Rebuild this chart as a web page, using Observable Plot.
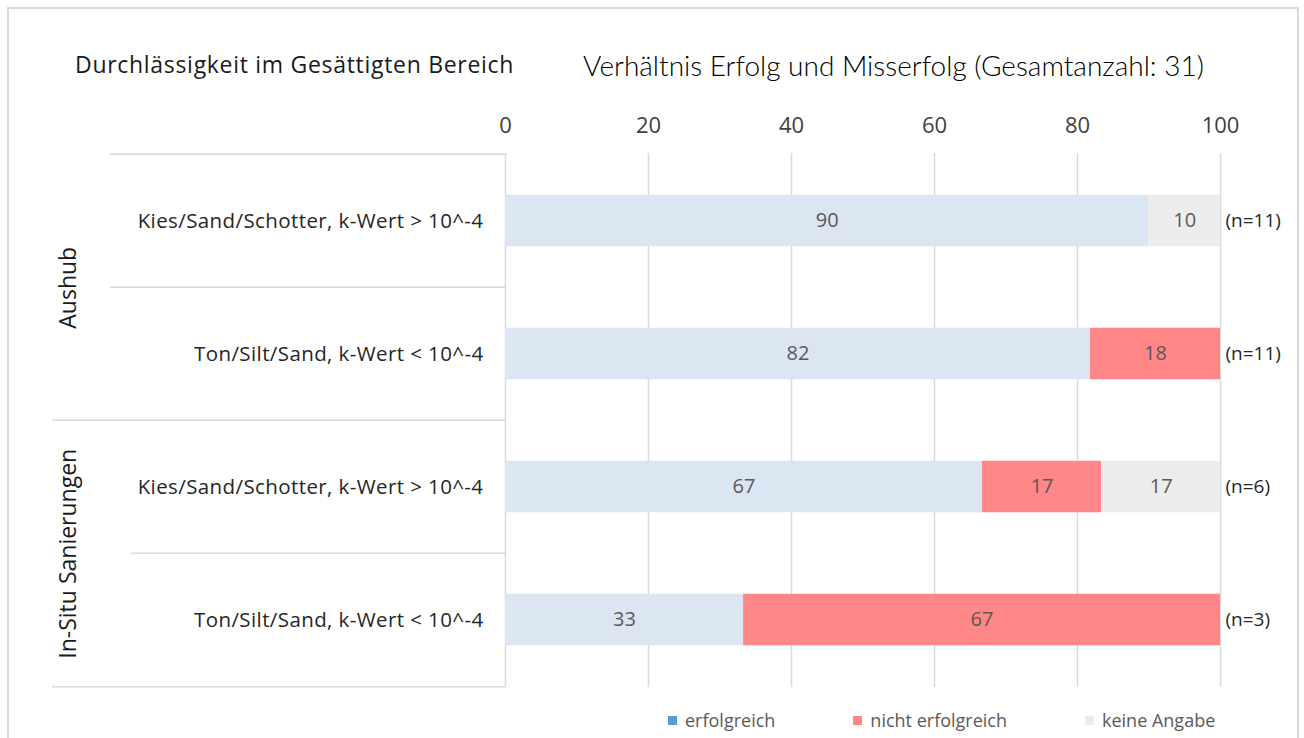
<!DOCTYPE html>
<html>
<head>
<meta charset="utf-8">
<script src="https://cdn.jsdelivr.net/npm/d3@7"></script>
<script src="https://cdn.jsdelivr.net/npm/@observablehq/plot@0.6"></script>
<style>
  body { margin: 0; background: #fff; font-family: "Open Sans", Lato, sans-serif; }
  #wrap { position: relative; width: 1304px; height: 738px; overflow: hidden; background: #fff; }
  #border { position: absolute; left: 7px; top: 7px; width: 1292px; height: 760px; border: 2px solid #d9d9d9; box-sizing: border-box; }
  #chart { position: absolute; left: 0; top: 0; }
  #title1 { position: absolute; left: 75px; top: 49px; font-size: 23px; line-height: 1.36; color: #1a1a1a; white-space: nowrap; letter-spacing: 0.7px; }
  #title2 { position: absolute; left: 583px; top: 49px; font-family: Lato, sans-serif; font-size: 28px; line-height: 1.2; font-weight: 300; color: #000; white-space: nowrap; }
  #legend { position: absolute; left: 668px; top: 708px; display: flex; font-size: 18px; color: #595959; white-space: nowrap; }
  .item { display: flex; align-items: center; margin-right: 78px; }
  .sw { width: 9px; height: 9px; margin-right: 8px; }
  [aria-label="y-axis tick label"] text { letter-spacing: 0.4px; }
</style>
</head>
<body>
<div id="wrap">
  <div id="border"></div>
  <div id="chart"></div>
  <div id="title1">Durchlässigkeit im Gesättigten Bereich</div>
  <div id="title2">Verhältnis Erfolg und Misserfolg (Gesamtanzahl: 31)</div>
  <div id="legend"></div>
</div>
<script>
// ---- data ----
const groups = ["Aushub", "Aushub", "In-Situ Sanierungen", "In-Situ Sanierungen"];
const materials = [
  "Kies/Sand/Schotter, k-Wert > 10^-4",
  "Ton/Silt/Sand, k-Wert < 10^-4",
  "Kies/Sand/Schotter, k-Wert > 10^-4",
  "Ton/Silt/Sand, k-Wert < 10^-4"
];
const erfolgreich = [90, 81.8, 66.7, 33.3];
const nichtErfolgreich = [0, 18.2, 16.7, 66.7];
const keineAngabe = [10, 0, 16.6, 0];
const counts = [11, 11, 6, 3];
const series = ["erfolgreich", "nicht erfolgreich", "keine Angabe"];
const barColors = ["#dce6f2", "#ff8787", "#ececec"];
const legendColors = ["#5b9bd5", "#ff8787", "#ececec"];
const xTicks = [0, 20, 40, 60, 80, 100];

// ---- derived tables ----
const rowIds = materials.map((_, i) => String(i));
const seriesValues = [erfolgreich, nichtErfolgreich, keineAngabe];
const long = [];
rowIds.forEach((r, i) => series.forEach((s, k) => long.push({row: r, series: s, value: seriesValues[k][i]})));
const rowsN = rowIds.map((r, i) => ({row: r, n: counts[i]}));
const groupNames = [...new Set(groups)];
const groupFirst = groupNames.map(g => ({group: g, row: String(groups.indexOf(g))}));

// ---- layout constants ----
const W = 1304, H = 700;
const mTop = 153, mBottom = 13, mLeft = 505, mRight = 84;
const step = (H - mTop - mBottom) / rowIds.length;
const half = step / 2;
const barH = 52;
const FONT = "'Open Sans', Lato, sans-serif";

// separator lines of the category table (left side)
const groupStartRows = rowIds.filter((r, i) => i > 0 && groups[i] !== groups[i - 1]);
const innerRowsA = rowIds.filter((r, i) => (i === 0 || groups[i] === groups[i - 1]) && groups[i] === groupNames[0]);
const innerRowsB = rowIds.filter((r, i) => i > 0 && groups[i] === groups[i - 1] && groups[i] !== groupNames[0]);
const lastRow = rowIds[rowIds.length - 1];
const lineStyle = {stroke: "#d9d9d9", strokeWidth: 1.5, x1: 0, x2: 0};

const chart = Plot.plot({
  width: W,
  height: H,
  marginTop: mTop,
  marginBottom: mBottom,
  marginLeft: mLeft,
  marginRight: mRight,
  style: {fontFamily: FONT, fontSize: "18px", background: "transparent"},
  x: {domain: [0, 100], axis: null},
  y: {domain: rowIds, padding: 0, axis: null},
  color: {domain: series, range: barColors},
  marks: [
    Plot.ruleX(xTicks, {stroke: "#d9d9d9", strokeWidth: 1.5}),
    Plot.barX(long, Plot.stackX({y: "row", x: "value", z: "series", fill: "series", order: series, insetTop: (step - barH) / 2, insetBottom: (step - barH) / 2})),
    Plot.text(long, Plot.stackX({y: "row", x: "value", z: "series", order: series, text: d => d.value > 0 ? String(Math.round(d.value)) : "", fill: "#595959", fontSize: 20})),
    Plot.axisX(xTicks, {anchor: "top", tickSize: 0, tickPadding: 21, fill: "#404040", fontSize: 22, label: null}),
    Plot.axisY({anchor: "left", tickSize: 0, tickPadding: 22, tickFormat: i => materials[+i], fill: "#262626", fontSize: 20.5, label: null}),
    Plot.text(rowsN, {y: "row", x: 100, text: d => `(n=${d.n})`, dx: 5, textAnchor: "start", fill: "#262626", fontSize: 19}),
    Plot.text(groupFirst, {y: "row", frameAnchor: "left", textAnchor: "middle", text: "group", rotate: -90, dy: half, dx: -437, fill: "#1a1a1a", fontSize: 23}),
    Plot.ruleY(innerRowsA, {...lineStyle, y: d => d, dy: -half, insetLeft: -395}),
    Plot.ruleY(innerRowsB, {...lineStyle, y: d => d, dy: -half, insetLeft: -374}),
    Plot.ruleY(groupStartRows, {...lineStyle, y: d => d, dy: -half, insetLeft: -453}),
    Plot.ruleY([lastRow], {...lineStyle, y: d => d, dy: half, insetLeft: -453})
  ]
});
document.getElementById("chart").appendChild(chart);

// ---- legend ----
const legend = document.getElementById("legend");
series.forEach((s, k) => {
  const it = document.createElement("div");
  it.className = "item";
  const sw = document.createElement("div");
  sw.className = "sw";
  sw.style.background = legendColors[k];
  const t = document.createElement("span");
  t.textContent = s;
  it.appendChild(sw); it.appendChild(t);
  legend.appendChild(it);
});
</script>
</body>
</html>
